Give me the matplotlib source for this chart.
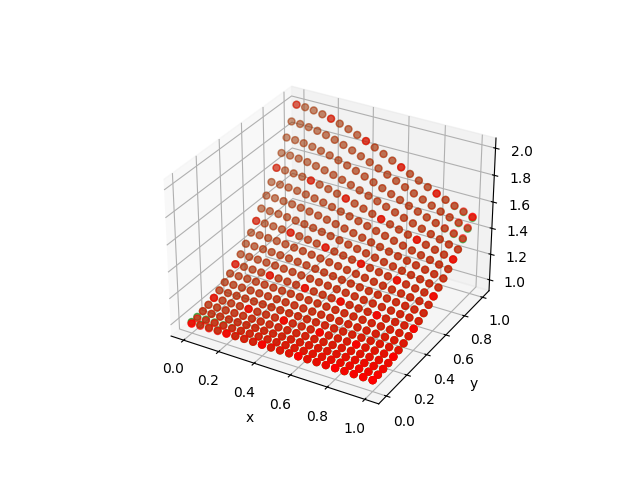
import numpy as np
import matplotlib
matplotlib.use('Agg')
from matplotlib import pyplot as plt

# grid of the surface
x_vals = [0.0, 0.05, 0.1, 0.15, 0.2, 0.25, 0.3, 0.35, 0.4, 0.45, 0.5, 0.55, 0.6, 0.65, 0.7, 0.75, 0.8, 0.85, 0.9, 0.95, 1.0]
y_vals = [0.0, 0.05, 0.1, 0.15, 0.2, 0.25, 0.3, 0.35, 0.4, 0.45, 0.5, 0.55, 0.6, 0.65, 0.7, 0.75, 0.8, 0.85, 0.9, 0.95, 1.0]
# rise above 1 along y at x=0, and how much of it is left along x
rise_y = [0.0, 0.0025, 0.01, 0.0225, 0.04, 0.0625, 0.09, 0.1225, 0.16, 0.2025, 0.25, 0.3025, 0.36, 0.4225, 0.49, 0.5625, 0.64, 0.7225, 0.81, 0.9025, 1.0]
keep_x = [1.0, 0.9975, 0.9901, 0.978, 0.9615, 0.9412, 0.9174, 0.8909, 0.8621, 0.8316, 0.8, 0.7678, 0.7353, 0.703, 0.6711, 0.64, 0.6098, 0.5806, 0.5525, 0.5256, 0.5]
# how far the red points sit from the green ones, only near two corners
shift_front_x = [-0.012, -0.008, -0.006, -0.005, -0.003, -0.001, 0, 0, 0, 0, 0, 0, 0, 0, 0, 0, 0, 0, 0, 0, 0]
shift_back_x = [0, 0, 0, 0, 0, 0, 0, 0, 0, 0, 0, 0, 0, 0, 0, 0, 0, 0, 0.002, 0.005, 0.008]

X, Y = np.meshgrid(x_vals, y_vals)
Z = 1 + np.outer(rise_y, keep_x)
Z_red = Z.copy()
Z_red[:2] += np.array(shift_front_x)
Z_red[-3:] += np.array(shift_back_x)

fig = plt.figure()
ax = fig.add_subplot(111, projection='3d')
ax.scatter(X.ravel(), Y.ravel(), Z.ravel(), c='g', s=25)
ax.scatter(X.ravel(), Y.ravel(), Z_red.ravel(), c='r', s=25)
# every fourth point again, these show up brighter
ax.scatter(X[::4, ::4].ravel(), Y[::4, ::4].ravel(), Z_red[::4, ::4].ravel(), c='r', s=25)
ax.set_xlabel('x')
ax.set_ylabel('y')
fig.savefig('out.png')
